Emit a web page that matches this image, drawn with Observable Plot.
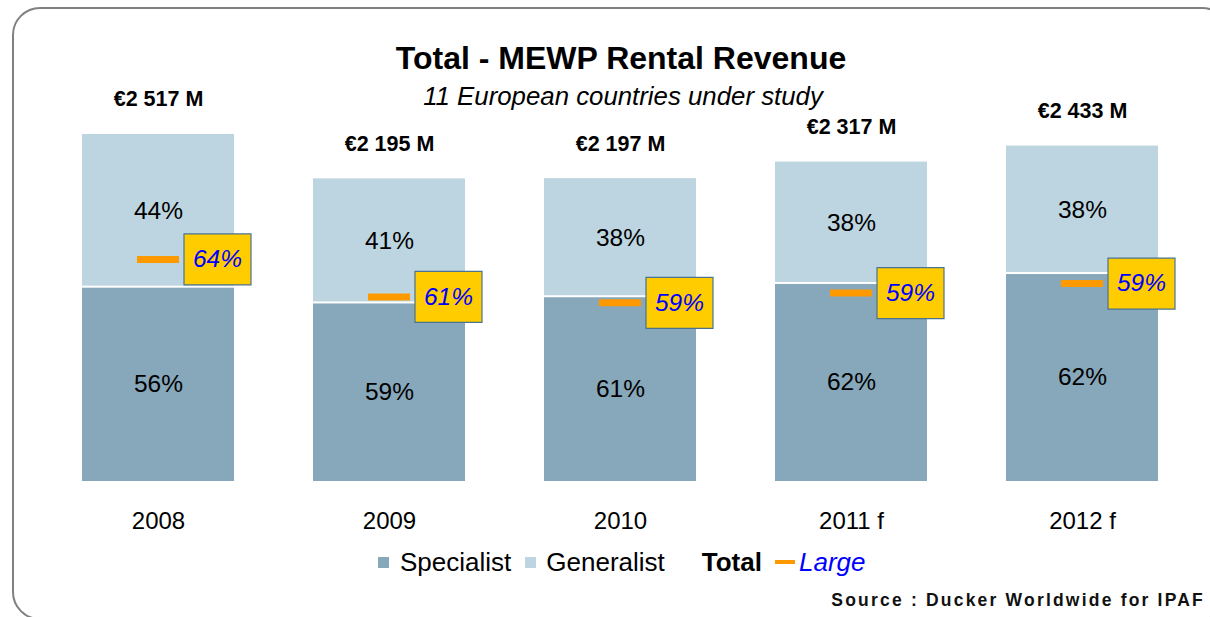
<!DOCTYPE html>
<html>
<head>
<meta charset="utf-8">
<script src="https://cdn.jsdelivr.net/npm/d3@7"></script>
<script src="https://cdn.jsdelivr.net/npm/@observablehq/plot@0.6"></script>
<style>
  html, body { margin: 0; padding: 0; background: #fff; overflow: hidden; }
  body { font-family: "Liberation Sans", Arial, sans-serif; }
  #wrap { position: relative; width: 1210px; height: 617px; overflow: hidden; }
  #frame { position: absolute; left: 12px; top: 7px; width: 1218px; height: 613px;
           border: 2px solid #808080; border-radius: 28px; box-sizing: border-box; }
  #title { position: absolute; left: 0; width: 1242px; top: 42px; text-align: center;
           font-size: 32px; line-height: 32px; font-weight: bold; color: #000; }
  #subtitle { position: absolute; left: 0; width: 1246px; top: 84px; text-align: center;
              font-size: 25.8px; line-height: 25px; font-style: italic; color: #000; }
  #chart { position: absolute; left: 0; top: 0; }
  #legend { position: absolute; left: 378px; top: 547px; display: flex; align-items: center;
            font-size: 26px; line-height: 30px; color: #000; white-space: nowrap; }
  .sw { display: inline-block; width: 11px; height: 11px; }
  #source { position: absolute; right: 5px; top: 589px; font-size: 17.5px; line-height: 22px;
            font-weight: bold; letter-spacing: 2.2px; color: #111; white-space: nowrap; }
</style>
</head>
<body>
<div id="wrap">
  <div id="frame"></div>
  <div id="chart"></div>
  <div id="title">Total - MEWP Rental Revenue</div>
  <div id="subtitle">11 European countries under study</div>
  <div id="legend"></div>
  <div id="source">Source : Ducker Worldwide for IPAF</div>
</div>
<script>
// ---- data ----
const years = ["2008", "2009", "2010", "2011 f", "2012 f"];
const totals = [2517, 2195, 2197, 2317, 2433];          // € M
const specialistPct = [56, 59, 61, 62, 62];
const generalistPct = [44, 41, 38, 38, 38];
const largePct = [64, 61, 59, 59, 59];

const specColor = "#87A7BA";
const genColor = "#BDD5E1";
const orange = "#FF9900";
const yellow = "#FFCC00";

const rows = years.map((year, i) => ({
  year,
  total: totals[i],
  spec: totals[i] * specialistPct[i] / 100,
  specPct: specialistPct[i],
  genPct: generalistPct[i],
  large: totals[i] * largePct[i] / 100,
  largePct: largePct[i]
}));

const fmtTotal = v => "€" + d3.format(",")(v).replace(/,/g, " ") + " M";

const boxSymbol = {
  draw(ctx) { ctx.rect(-33.5, -25.5, 67, 51); }
};

const chart = Plot.plot({
  width: 1210,
  height: 545,
  marginLeft: 80,
  marginRight: 51,
  marginTop: 134,
  marginBottom: 64,
  style: { fontFamily: '"Liberation Sans", Arial, sans-serif', color: "#000", background: "transparent" },
  x: { domain: years, paddingInner: 0.344, paddingOuter: 0, axis: null },
  y: { domain: [0, d3.max(totals)], axis: null },
  marks: [
    Plot.barY(rows, { x: "year", y1: 0, y2: "spec", fill: specColor, insetTop: 1 }),
    Plot.barY(rows, { x: "year", y1: "spec", y2: "total", fill: genColor, insetBottom: 1 }),
    Plot.text(rows, { x: "year", y: d => d.spec / 2, text: d => d.specPct + "%", fontSize: 24.5, fill: "#000" }),
    Plot.text(rows, { x: "year", y: d => (d.spec + d.total) / 2, text: d => d.genPct + "%", fontSize: 24.5, fill: "#000" }),
    Plot.text(rows, { x: "year", y: "total", dy: -35, text: d => fmtTotal(d.total), fontSize: 21.5, fontWeight: "bold", fill: "#000" }),
    Plot.tickY(rows, { x: "year", y: "large", stroke: orange, strokeWidth: 7, insetLeft: 55, insetRight: 55 }),
    Plot.dot(rows, { x: "year", y: "large", symbol: boxSymbol, r: 10, dx: 59, fill: yellow, stroke: "#4A7391", strokeWidth: 1.2 }),
    Plot.text(rows, { x: "year", y: "large", dx: 59, text: d => d.largePct + "%", fontSize: 24.5, fontStyle: "italic", fill: "#0000FF" }),
    Plot.axisX({ tickSize: 0, tickPadding: 30, fontSize: 24, fill: "#000", label: null })
  ]
});
document.getElementById("chart").appendChild(chart);

// ---- legend ----
const legend = document.getElementById("legend");
legend.innerHTML =
  `<span class="sw" style="background:${specColor}"></span>` +
  `<span style="margin-left:11px">Specialist</span>` +
  `<span class="sw" style="background:${genColor};margin-left:14px"></span>` +
  `<span style="margin-left:10px">Generalist</span>` +
  `<span style="margin-left:37px;font-weight:bold">Total</span>` +
  `<span style="display:inline-block;width:20px;height:4px;background:${orange};margin-left:13px"></span>` +
  `<span style="margin-left:4px;font-style:italic;color:#0000FF">Large</span>`;
</script>
</body>
</html>
